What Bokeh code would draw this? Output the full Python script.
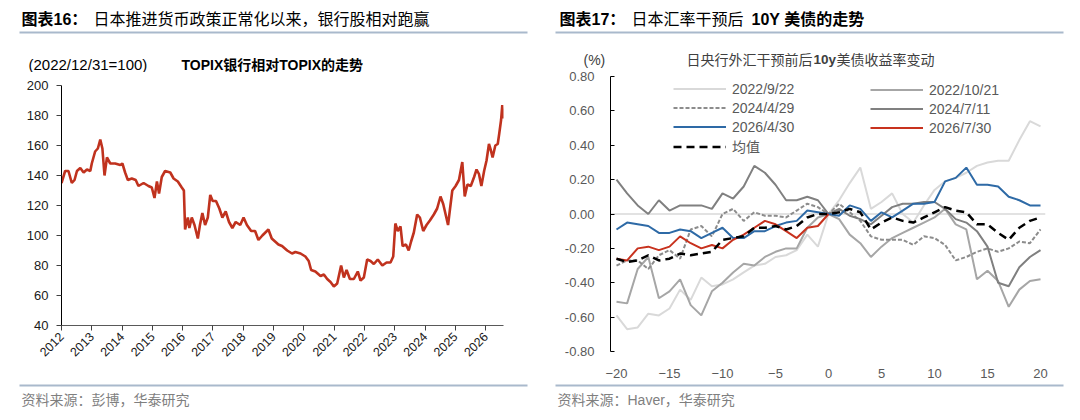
from math import pi

from bokeh.embed import file_html
from bokeh.layouts import column, row
from bokeh.models import (BoxAnnotation, FixedTicker, Label, Legend, LegendItem,
                          NumeralTickFormatter, Range1d, Span)
from bokeh.plotting import figure
from bokeh.resources import INLINE

# ---------- 图表16: TOPIX银行相对TOPIX (2022/12/31=100)
topix_t = [2012.00, 2012.12, 2012.23, 2012.34, 2012.43, 2012.51, 2012.62, 2012.73, 2012.84, 2012.95,
           2013.00, 2013.11, 2013.20, 2013.28, 2013.35, 2013.42, 2013.50, 2013.61, 2013.77, 2013.94,
           2014.01, 2014.10, 2014.19, 2014.32, 2014.45, 2014.54, 2014.71, 2014.87, 2014.98, 2015.07,
           2015.15, 2015.22, 2015.31, 2015.42, 2015.59, 2015.70, 2015.84, 2015.97, 2016.04, 2016.08,
           2016.17, 2016.22, 2016.30, 2016.39, 2016.50, 2016.57, 2016.65, 2016.74, 2016.83, 2016.91,
           2016.99, 2017.10, 2017.21, 2017.31, 2017.42, 2017.53, 2017.64, 2017.75, 2017.90, 2018.01,
           2018.12, 2018.26, 2018.39, 2018.50, 2018.63, 2018.83, 2018.94, 2019.05, 2019.16, 2019.28,
           2019.45, 2019.61, 2019.72, 2019.89, 2020.05, 2020.16, 2020.24, 2020.38, 2020.55, 2020.66,
           2020.77, 2020.88, 2020.99, 2021.10, 2021.23, 2021.32, 2021.41, 2021.52, 2021.65, 2021.78,
           2021.87, 2021.98, 2022.09, 2022.20, 2022.31, 2022.44, 2022.59, 2022.73, 2022.86, 2022.95,
           2023.02, 2023.10, 2023.19, 2023.26, 2023.37, 2023.46, 2023.54, 2023.63, 2023.74, 2023.83,
           2023.94, 2024.05, 2024.16, 2024.29, 2024.40, 2024.51, 2024.60, 2024.68, 2024.76, 2024.82,
           2024.90, 2025.01, 2025.12, 2025.23, 2025.31, 2025.40, 2025.51, 2025.62, 2025.70, 2025.78,
           2025.86, 2025.95, 2026.03, 2026.11, 2026.17, 2026.23, 2026.32, 2026.40, 2026.45, 2026.51,
           2026.55, 2026.59]
topix_v = [135, 143, 143, 135, 137, 143, 145, 142, 144, 143,
           148, 156, 158, 164, 158, 140, 152, 148, 148, 147,
           148, 142, 137, 138, 137, 133, 135, 133, 132, 125,
           136, 128, 139, 143, 142, 138, 136, 132, 130, 104,
           112, 105, 112, 107, 98, 107, 115, 107, 112, 127,
           123, 123, 118, 112, 116, 109, 105, 109, 107, 112,
           107, 103, 103, 97, 100, 104, 98, 96, 94, 93,
           90, 88, 89, 88, 86, 83, 77, 76, 73, 74,
           71, 69, 66, 68, 80, 72, 77, 71, 71, 76,
           70, 72, 84, 83, 81, 84, 80, 82, 82, 86,
           108, 103, 106, 93, 94, 90, 96, 102, 114, 112,
           103, 107, 110, 114, 118, 126, 121, 114, 107, 117,
           130, 133, 137, 149, 126, 134, 133, 139, 144, 141,
           133, 143, 150, 161, 157, 152, 160, 161, 168, 177,
           187, 178]
year_ticks = list(range(2012, 2027))
left_y_ticks = [40, 60, 80, 100, 120, 140, 160, 180, 200]

# ---------- 图表17: 日央行外汇干预前后10y美债收益率变动 (%)
days = list(range(-20, 21))
y_2022_09_22 = [-0.59, -0.67, -0.66, -0.58, -0.59, -0.55, -0.44, -0.50, -0.37, -0.42,
                -0.41, -0.38, -0.34, -0.30, -0.29, -0.25, -0.24, -0.21, -0.12, -0.19,
                0.00, 0.08, 0.18, 0.27, 0.03, 0.07, 0.12, 0.00, -0.05, 0.05,
                0.14, 0.19, 0.21, 0.24, 0.28, 0.30, 0.31, 0.31, 0.43, 0.54, 0.51]
y_2022_10_21 = [-0.51, -0.52, -0.32, -0.25, -0.49, -0.45, -0.38, -0.53, -0.59, -0.45,
                -0.40, -0.34, -0.29, -0.30, -0.25, -0.22, -0.20, -0.20, -0.08, -0.02,
                0.00, -0.03, -0.12, -0.17, -0.25, -0.19, -0.14, -0.11, -0.08, -0.05,
                -0.02, 0.03, -0.06, -0.09, -0.38, -0.33, -0.39, -0.54, -0.44, -0.39, -0.38]
y_2024_04_29 = [-0.30, -0.27, -0.27, -0.32, -0.24, -0.21, -0.26, -0.09, -0.07, -0.13,
                0.00, 0.03, -0.04, 0.01, -0.01, -0.01, -0.02, 0.02, 0.06, 0.04,
                0.00, 0.06, 0.01, -0.04, -0.13, -0.15, -0.15, -0.15, -0.18, -0.13,
                -0.14, -0.18, -0.27, -0.25, -0.22, -0.20, -0.22, -0.20, -0.16, -0.17, -0.09]
y_2024_07_11 = [0.20, 0.12, 0.05, 0.00, 0.08, 0.02, 0.05, 0.05, 0.05, 0.03,
                0.12, 0.09, 0.16, 0.28, 0.24, 0.17, 0.08, 0.08, 0.10, 0.08,
                0.00, 0.03, -0.01, -0.03, -0.06, -0.01, 0.04, 0.06, 0.06, 0.07,
                0.07, 0.03, -0.03, -0.05, -0.10, -0.19, -0.40, -0.42, -0.31, -0.25, -0.21]
y_2026_04_30 = [-0.09, -0.05, -0.06, -0.07, -0.11, -0.11, -0.09, -0.10, -0.14, -0.11,
                -0.08, -0.14, -0.14, -0.10, -0.10, -0.07, -0.05, -0.04, 0.02, 0.01,
                0.00, -0.01, 0.05, 0.03, -0.04, 0.01, -0.02, 0.02, 0.06, 0.06,
                0.07, 0.19, 0.21, 0.27, 0.17, 0.17, 0.16, 0.10, 0.08, 0.05, 0.05]
days_2026_07_30 = list(range(-20, 1))
y_2026_07_30 = [-0.26, -0.27, -0.20, -0.19, -0.21, -0.19, -0.13, -0.17, -0.20, -0.18,
                -0.20, -0.15, -0.12, -0.08, -0.04, -0.06, -0.10, -0.14, -0.08, -0.07, 0.00]
y_mean = [-0.26, -0.28, -0.27, -0.24, -0.27, -0.26, -0.23, -0.24, -0.23, -0.22,
          -0.15, -0.14, -0.13, -0.08, -0.08, -0.07, -0.09, -0.07, -0.02, 0.00,
          0.00, 0.01, 0.03, 0.01, -0.09, -0.05, -0.02, -0.04, -0.05, -0.02,
          0.01, 0.04, 0.02, 0.01, -0.06, -0.06, -0.11, -0.15, -0.08, -0.04, -0.02]
day_ticks = [-20, -15, -10, -5, 0, 5, 10, 15, 20]
right_y_ticks = [-0.8, -0.6, -0.4, -0.2, 0.0, 0.2, 0.4, 0.6, 0.8]

FONT = "Liberation Sans, Noto Sans CJK SC"
RULE = "#a9b9cc"


def panel(height):
    # blank strip used for titles, subtitles and sources
    p = figure(width=540, height=height, output_backend="svg", toolbar_location=None,
               x_axis_location=None, y_axis_location=None, min_border=0,
               x_range=Range1d(0, 1), y_range=Range1d(0, 1), frame_align=False)
    p.outline_line_color = None
    p.grid.visible = False
    return p


def text(p, x, y, s, size="13px", color="#000000", bold=False):
    p.add_layout(Label(x=x, y=p.height - y, x_units="screen", y_units="screen", text=s,
                       text_font=FONT, text_font_size=size, text_color=color,
                       text_font_style="bold" if bold else "normal",
                       text_baseline="middle", text_align="left"))


def rule(p, left, right, y):
    p.add_layout(BoxAnnotation(left=left, right=right, top=p.height - y + 1,
                               bottom=p.height - y - 1,
                               left_units="screen", right_units="screen",
                               top_units="screen", bottom_units="screen",
                               fill_color=RULE, fill_alpha=1, line_color=None))


def base(p):
    p.outline_line_color = None
    p.xgrid.visible = False
    p.ygrid.visible = False
    p.axis.minor_tick_line_color = None
    p.axis.major_label_text_font = "Liberation Sans"
    p.axis.major_label_text_font_size = "13px"


# ---------- left chart
hl = panel(72)
text(hl, 21, 19, "图表16：", size="16px", bold=True)
text(hl, 93, 19, "日本推进货币政策正常化以来，银行股相对跑赢", size="16px")
rule(hl, 19, 527, 32)
text(hl, 28, 64, "(2022/12/31=100)", size="15px")
text(hl, 181, 64, "TOPIX银行相对TOPIX的走势", size="14px", bold=True)

p1 = figure(width=540, height=303, output_backend="svg", toolbar_location=None,
            x_range=Range1d(2012, 2026.59), y_range=Range1d(40, 200), frame_align=False,
            min_border_left=61, min_border_right=37, min_border_top=13, min_border_bottom=50)
base(p1)
p1.line(topix_t, topix_v, line_color="#c0321e", line_width=2.6)
p1.xaxis.ticker = FixedTicker(ticks=year_ticks)
p1.xaxis.major_label_orientation = pi / 4
p1.xaxis.major_label_text_font_size = "12.5px"
p1.xaxis.major_label_standoff = 4
p1.yaxis.ticker = FixedTicker(ticks=left_y_ticks)
p1.yaxis.major_label_standoff = 8
p1.axis.major_tick_in = 0
p1.axis.major_tick_out = 5
p1.axis.major_label_text_color = "#1a1a1a"
p1.yaxis.axis_line_color = "#000000"
p1.xaxis.axis_line_color = "#595959"
p1.axis.major_tick_line_color = "#404040"

fl = panel(45)
rule(fl, 19, 527, 10)
text(fl, 21, 24, "资料来源：彭博，华泰研究", size="14px", color="#7f7f7f")

# ---------- right chart
hr = panel(68)
text(hr, 19, 19, "图表17：", size="16px", bold=True)
text(hr, 91, 19, "日本汇率干预后", size="16px")
text(hr, 211, 19, "10Y 美债的走势", size="16px", bold=True)
rule(hr, 15, 523, 32)
text(hr, 43, 59, "(%)", size="14px", color="#404040")
text(hr, 146, 59, "日央行外汇干预前后", size="14px", color="#404040")
text(hr, 273, 59, "10y", size="13.5px", color="#404040", bold=True)
text(hr, 296, 59, "美债收益率变动", size="14px", color="#404040")

p2 = figure(width=540, height=312, output_backend="svg", toolbar_location=None,
            x_range=Range1d(-20.566, 20.47), y_range=Range1d(-0.8, 0.8), frame_align=False,
            min_border_left=70, min_border_right=35, min_border_top=8, min_border_bottom=26)
base(p2)
p2.add_layout(Span(location=0, dimension="width", line_color="#d9d9d9", line_width=1.5,
                   level="underlay"))

r1 = p2.line(days, y_2022_09_22, line_color="#d9d9d9", line_width=2)
r2 = p2.line(days, y_2022_10_21, line_color="#a6a6a6", line_width=2)
r3 = p2.line(days, y_2024_04_29, line_color="#8c8c8c", line_width=2, line_dash="4 2")
r4 = p2.line(days, y_2024_07_11, line_color="#808080", line_width=2)
r5 = p2.line(days, y_2026_04_30, line_color="#2e6aa6", line_width=2)
r6 = p2.line(days_2026_07_30, y_2026_07_30, line_color="#c8321e", line_width=2)
r7 = p2.line(days, y_mean, line_color="#000000", line_width=2.5, line_dash="8 5")

p2.xaxis.ticker = FixedTicker(ticks=day_ticks)
p2.xaxis.axis_line_color = None
p2.xaxis.major_tick_line_color = None
p2.xaxis.major_label_standoff = 11
p2.yaxis.ticker = FixedTicker(ticks=right_y_ticks)
p2.yaxis.formatter = NumeralTickFormatter(format="0.00")
p2.yaxis.major_tick_in = 4
p2.yaxis.major_tick_out = 0
p2.yaxis.major_label_standoff = 16
p2.yaxis.axis_line_color = "#000000"
p2.yaxis.major_tick_line_color = "#000000"
p2.axis.major_label_text_color = "#595959"


def legend(items, loc):
    return Legend(items=items, location=loc, orientation="vertical",
                  glyph_width=53, glyph_height=19, label_height=19, label_standoff=6,
                  spacing=0, padding=0, margin=0, border_line_color=None,
                  background_fill_alpha=0, label_text_font=FONT,
                  label_text_font_size="14px", label_text_color="#595959")


p2.add_layout(legend([LegendItem(label="2022/9/22", renderers=[r1]),
                      LegendItem(label="2024/4/29", renderers=[r3]),
                      LegendItem(label="2026/4/30", renderers=[r5]),
                      LegendItem(label="均值", renderers=[r7])], (63, 195)))
p2.add_layout(legend([LegendItem(label="2022/10/21", renderers=[r2]),
                      LegendItem(label="2024/7/11", renderers=[r4]),
                      LegendItem(label="2026/7/30", renderers=[r6])], (260, 214)))

fr = panel(40)
rule(fr, 15, 523, 5)
text(fr, 17, 19, "资料来源：Haver，华泰研究", size="14px", color="#7f7f7f")

layout = row(column(hl, p1, fl, spacing=0), column(hr, p2, fr, spacing=0), spacing=0)
open("out.html", "w").write(file_html(layout, INLINE))
